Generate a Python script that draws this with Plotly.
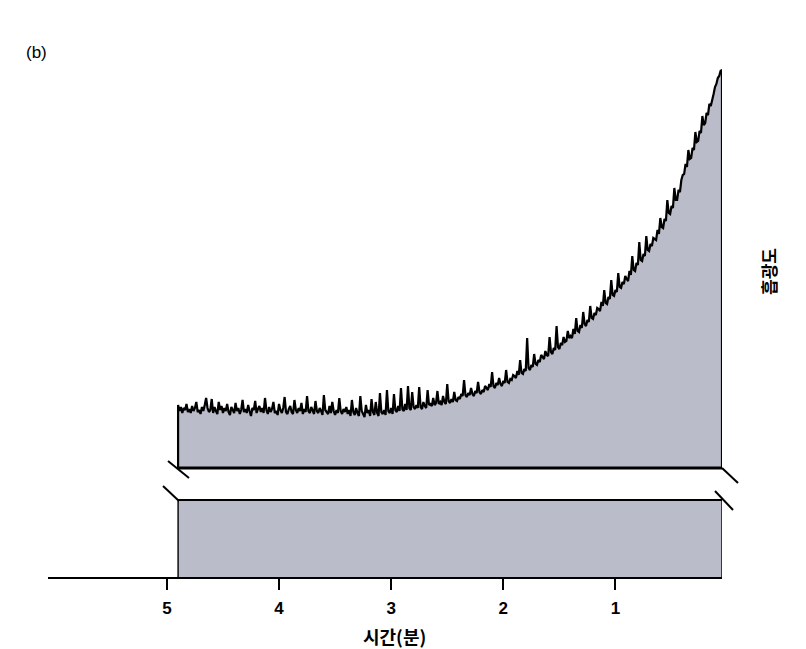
import plotly.graph_objects as go

# ---- data ----
t_start = 4.9          # minutes (first sample)
t_step = 0.0125        # sampling interval, minutes
absorbance = [
    63, 57, 61, 55, 60, 58, 64, 56, 59, 55, 62, 57, 60, 66, 56, 58, 54, 61, 57, 63,
    70, 60, 56, 58, 69, 55, 61, 57, 54, 66, 58, 62, 55, 60, 57, 64, 56, 53, 61, 58,
    55, 65, 57, 60, 54, 58, 68, 56, 59, 55, 63, 57, 52, 60, 58, 67, 55, 59, 62, 56,
    60, 55, 70, 58, 54, 61, 56, 59, 66, 55, 57, 53, 64, 58, 55, 60, 71, 56, 54, 59,
    62, 56, 54, 68, 58, 55, 60, 57, 65, 54, 59, 56, 72, 57, 55, 61, 58, 54, 67, 57,
    55, 60, 57, 53, 73, 58, 56, 54, 62, 55, 66, 57, 53, 58, 55, 70, 57, 54, 59, 56,
    61, 54, 58, 52, 68, 56, 53, 60, 55, 52, 72, 57, 54, 51, 63, 55, 58, 52, 69, 56,
    53, 66, 55, 52, 75, 56, 54, 58, 53, 78, 57, 55, 60, 54, 74, 58, 56, 62, 57, 80,
    59, 57, 64, 58, 82, 60, 58, 76, 61, 59, 63, 60, 81, 61, 59, 66, 62, 60, 78, 63,
    64, 62, 70, 63, 65, 77, 64, 66, 63, 72, 66, 64, 84, 67, 65, 69, 66, 76, 68, 67,
    71, 69, 74, 72, 88, 73, 71, 75, 73, 80, 74, 72, 77, 75, 86, 76, 74, 78, 76, 82,
    80, 78, 84, 81, 96, 82, 80, 85, 83, 90, 84, 82, 87, 85, 98, 86, 85, 89, 88, 93,
    92, 90, 97, 93, 108, 95, 94, 99, 97, 130, 100, 98, 103, 101, 114, 104, 103, 108, 106, 113,
    111, 109, 117, 113, 112, 131, 116, 114, 120, 118, 142, 121, 119, 125, 123, 131, 126, 127, 137, 130,
    132, 130, 139, 134, 150, 137, 136, 143, 140, 156, 144, 142, 148, 146, 162, 150, 149, 155, 153, 160,
    159, 157, 166, 162, 178, 165, 164, 171, 169, 188, 173, 172, 178, 176, 195, 181, 180, 186, 184, 192,
    189, 187, 197, 193, 212, 198, 197, 205, 203, 226, 208, 207, 214, 212, 232, 218, 217, 224, 222, 230,
    229, 228, 238, 234, 250, 241, 240, 249, 247, 268, 255, 254, 262, 260, 280, 268, 268, 278, 276, 288,
    293, 294, 304, 301, 318, 309, 310, 320, 318, 336, 326, 327, 337, 335, 352, 343, 345, 355, 353, 364,
    362, 370, 374, 381, 384, 390, 392, 397, 398,
]
time_min = [round(t_start - i * t_step, 5) for i in range(len(absorbance))]
tick_vals = [1, 2, 3, 4, 5]
tick_text = ["1", "2", "3", "4", "5"]

FILL = "#babdc9"
t0, t1 = time_min[0], time_min[-1]
x_line = [t0] + time_min + [t1]
y_line = [0] + absorbance + [0]

fig = go.Figure()
fig.add_trace(go.Scatter(x=x_line, y=y_line, xaxis="x", yaxis="y2", mode="lines",
                         line=dict(color="black", width=2.2), fill="tozeroy",
                         fillcolor=FILL, hoverinfo="skip", showlegend=False))
fig.add_trace(go.Scatter(x=x_line, y=y_line, xaxis="x", yaxis="y", mode="lines",
                         line=dict(color="black", width=1.4), fill="tozeroy",
                         fillcolor=FILL, hoverinfo="skip", showlegend=False))

OFF = 8  # page body margin in the browser
W, H = 806 - OFF, 649 - OFF
L, R, T, B = 48 - OFF, 806 - 722, 60 - OFF, 649 - 577
pw, ph = W - L - R, H - T - B


def px(xp):
    return (xp - 48) / pw


def py(yp):
    return (577 - yp) / ph


shapes = []
shapes.append(dict(type="line", xref="x", yref="y2 domain", x0=t0, x1=t1, y0=0, y1=0,
                   line=dict(color="black", width=3)))
shapes.append(dict(type="line", xref="x", yref="y domain", x0=t0, x1=t1, y0=1, y1=1,
                   line=dict(color="black", width=2)))
for (a, b, c, d) in [(168, 461, 189, 478), (163, 486, 179, 501),
                     (722, 468, 738, 483), (715, 491, 733, 510)]:
    shapes.append(dict(type="line", xref="paper", yref="paper",
                       x0=px(a), y0=py(b), x1=px(c), y1=py(d),
                       line=dict(color="black", width=2)))

fig.update_layout(
    width=W, height=H,
    margin=dict(l=L, r=R, t=T, b=B),
    paper_bgcolor="white", plot_bgcolor="rgba(0,0,0,0)",
    xaxis=dict(range=[6.06, 0.05], anchor="y", showgrid=False, zeroline=False,
               showline=True, linecolor="black", linewidth=1.5,
               ticks="outside", ticklen=11, tickwidth=1.5, tickcolor="black",
               tickvals=tick_vals, ticktext=tick_text, ticklabelstandoff=4,
               tickfont=dict(family="Liberation Sans, Arial", size=17, color="black",
                             weight="bold")),
    yaxis=dict(domain=[0, py(500)], range=[0, 25], visible=False),
    yaxis2=dict(domain=[py(468), 1], range=[0, 408], anchor="x", visible=False),
    shapes=shapes,
    annotations=[
        dict(text="(b)", xref="paper", yref="paper", x=px(24), y=py(52),
             xanchor="left", yanchor="middle", showarrow=False,
             font=dict(family="Liberation Sans, Arial", size=17, color="black")),
        dict(text="흡광도", xref="paper", yref="paper", x=px(768), y=py(272),
             xanchor="center", yanchor="middle", textangle=-90, showarrow=False,
             font=dict(family="Noto Sans CJK KR", size=17, color="black", weight="bold")),
        dict(text="시간(분)", xref="paper", yref="paper", x=px(395), y=py(636),
             xanchor="center", yanchor="middle", showarrow=False,
             font=dict(family="Noto Sans CJK KR", size=18, color="black", weight="bold")),
    ],
)

fig.write_html("out.html")
